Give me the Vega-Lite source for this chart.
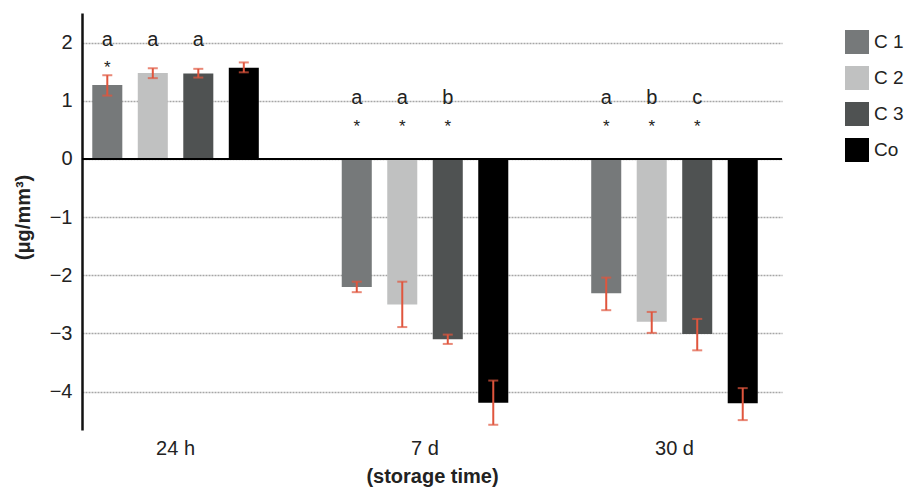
{
  "$schema": "https://vega.github.io/schema/vega-lite/v6.json",
  "width": 700,
  "height": 417,
  "autosize": {"type": "none"},
  "padding": {"left": 82, "top": 13, "right": 124, "bottom": 58},
  "background": "white",
  "config": {
    "view": {"stroke": null},
    "font": "Liberation Sans",
    "axisX": {
      "labelAngle": 0, "labelFontSize": 20, "labelColor": "#222", "labelPadding": 8,
      "ticks": false, "domain": false, "grid": false,
      "titleFontSize": 20, "titleFontWeight": "bold", "titleColor": "#222", "titlePadding": 8
    },
    "axisY": {
      "grid": true, "gridDash": [2, 1], "gridColor": "#a6a6a6", "gridWidth": 1.5,
      "domain": true, "domainColor": "#111", "domainWidth": 2.5, "ticks": false,
      "labelFontSize": 20, "labelColor": "#222", "labelPadding": 10,
      "titleFontSize": 20, "titleFontWeight": "bold", "titleColor": "#222",
      "titleX": -59, "titleY": 204, "titleAlign": "center", "titleBaseline": "middle"
    }
  },
  "data": {
    "values": [
      {"time": "24 h", "group": "C 1", "value": 1.27, "lo": 1.09, "hi": 1.44, "letter": "a", "star": "*"},
      {"time": "24 h", "group": "C 2", "value": 1.48, "lo": 1.39, "hi": 1.56, "letter": "a", "star": ""},
      {"time": "24 h", "group": "C 3", "value": 1.47, "lo": 1.40, "hi": 1.55, "letter": "a", "star": ""},
      {"time": "24 h", "group": "Co", "value": 1.57, "lo": 1.49, "hi": 1.66, "letter": "", "star": ""},
      {"time": "7 d", "group": "C 1", "value": -2.20, "lo": -2.29, "hi": -2.11, "letter": "a", "star": "*"},
      {"time": "7 d", "group": "C 2", "value": -2.50, "lo": -2.89, "hi": -2.11, "letter": "a", "star": "*"},
      {"time": "7 d", "group": "C 3", "value": -3.10, "lo": -3.18, "hi": -3.02, "letter": "b", "star": "*"},
      {"time": "7 d", "group": "Co", "value": -4.19, "lo": -4.57, "hi": -3.81, "letter": "", "star": ""},
      {"time": "30 d", "group": "C 1", "value": -2.31, "lo": -2.60, "hi": -2.04, "letter": "a", "star": "*"},
      {"time": "30 d", "group": "C 2", "value": -2.80, "lo": -2.99, "hi": -2.63, "letter": "b", "star": "*"},
      {"time": "30 d", "group": "C 3", "value": -3.01, "lo": -3.29, "hi": -2.75, "letter": "c", "star": "*"},
      {"time": "30 d", "group": "Co", "value": -4.20, "lo": -4.49, "hi": -3.94, "letter": "", "star": ""}
    ]
  },
  "layer": [
    {
      "mark": {"type": "bar"},
      "encoding": {
        "x": {
          "field": "time", "type": "nominal", "sort": ["24 h", "7 d", "30 d"],
          "scale": {"paddingInner": 0.25, "paddingOuter": 0.028, "align": 0},
          "axis": {"title": "(storage time)"}
        },
        "xOffset": {
          "field": "group", "type": "nominal", "sort": ["C 1", "C 2", "C 3", "Co"],
          "scale": {"paddingInner": 0.34, "paddingOuter": 0.226}
        },
        "y": {
          "field": "value", "type": "quantitative",
          "scale": {"domain": [-4.66, 2.51], "nice": false, "zero": false},
          "axis": {"title": "(μg/mm³)", "values": [-4, -3, -2, -1, 0, 1, 2], "format": "d"}
        },
        "color": {
          "field": "group", "type": "nominal",
          "scale": {"domain": ["C 1", "C 2", "C 3", "Co"], "range": ["#76797a", "#c0c1c1", "#4f5252", "#000000"]},
          "legend": {
            "title": null, "orient": "none", "legendX": 763, "legendY": 17,
            "symbolType": "square", "symbolSize": 576, "symbolStrokeWidth": 0, "symbolOpacity": 1,
            "labelFontSize": 19, "labelColor": "#222", "labelOffset": 5, "rowPadding": 12
          }
        }
      }
    },
    {
      "mark": {"type": "rule", "color": "#000000", "strokeWidth": 2},
      "encoding": {"y": {"datum": 0, "type": "quantitative", "axis": {"title": "(μg/mm³)", "values": [-4, -3, -2, -1, 0, 1, 2], "format": "d"}}}
    },
    {
      "mark": {"type": "rule", "color": "#e0553d", "strokeWidth": 2},
      "encoding": {
        "x": {"field": "time", "type": "nominal", "sort": ["24 h", "7 d", "30 d"], "axis": {"title": "(storage time)"}},
        "xOffset": {"field": "group", "type": "nominal", "sort": ["C 1", "C 2", "C 3", "Co"]},
        "y": {"field": "lo", "type": "quantitative", "axis": {"title": "(μg/mm³)", "values": [-4, -3, -2, -1, 0, 1, 2], "format": "d"}},
        "y2": {"field": "hi"}
      }
    },
    {
      "mark": {"type": "tick", "color": "#e0553d", "thickness": 2, "size": 10},
      "encoding": {
        "x": {"field": "time", "type": "nominal", "sort": ["24 h", "7 d", "30 d"], "axis": {"title": "(storage time)"}},
        "xOffset": {"field": "group", "type": "nominal", "sort": ["C 1", "C 2", "C 3", "Co"]},
        "y": {"field": "lo", "type": "quantitative", "axis": {"title": "(μg/mm³)", "values": [-4, -3, -2, -1, 0, 1, 2], "format": "d"}}
      }
    },
    {
      "mark": {"type": "tick", "color": "#e0553d", "thickness": 2, "size": 10},
      "encoding": {
        "x": {"field": "time", "type": "nominal", "sort": ["24 h", "7 d", "30 d"], "axis": {"title": "(storage time)"}},
        "xOffset": {"field": "group", "type": "nominal", "sort": ["C 1", "C 2", "C 3", "Co"]},
        "y": {"field": "hi", "type": "quantitative", "axis": {"title": "(μg/mm³)", "values": [-4, -3, -2, -1, 0, 1, 2], "format": "d"}}
      }
    },
    {
      "transform": [{"filter": "datum.time === '24 h'"}],
      "mark": {"type": "text", "fontSize": 20, "color": "#222", "baseline": "alphabetic"},
      "encoding": {
        "x": {"field": "time", "type": "nominal", "sort": ["24 h", "7 d", "30 d"], "axis": {"title": "(storage time)"}},
        "xOffset": {"field": "group", "type": "nominal", "sort": ["C 1", "C 2", "C 3", "Co"]},
        "y": {"datum": 1.94, "type": "quantitative", "axis": {"title": "(μg/mm³)", "values": [-4, -3, -2, -1, 0, 1, 2], "format": "d"}},
        "text": {"field": "letter"}
      }
    },
    {
      "transform": [{"filter": "datum.time !== '24 h'"}],
      "mark": {"type": "text", "fontSize": 20, "color": "#222", "baseline": "alphabetic"},
      "encoding": {
        "x": {"field": "time", "type": "nominal", "sort": ["24 h", "7 d", "30 d"], "axis": {"title": "(storage time)"}},
        "xOffset": {"field": "group", "type": "nominal", "sort": ["C 1", "C 2", "C 3", "Co"]},
        "y": {"datum": 0.945, "type": "quantitative", "axis": {"title": "(μg/mm³)", "values": [-4, -3, -2, -1, 0, 1, 2], "format": "d"}},
        "text": {"field": "letter"}
      }
    },
    {
      "transform": [{"filter": "datum.time === '24 h'"}],
      "mark": {"type": "text", "fontSize": 17, "color": "#222", "baseline": "alphabetic"},
      "encoding": {
        "x": {"field": "time", "type": "nominal", "sort": ["24 h", "7 d", "30 d"], "axis": {"title": "(storage time)"}},
        "xOffset": {"field": "group", "type": "nominal", "sort": ["C 1", "C 2", "C 3", "Co"]},
        "y": {"datum": 1.48, "type": "quantitative", "axis": {"title": "(μg/mm³)", "values": [-4, -3, -2, -1, 0, 1, 2], "format": "d"}},
        "text": {"field": "star"}
      }
    },
    {
      "transform": [{"filter": "datum.time !== '24 h'"}],
      "mark": {"type": "text", "fontSize": 17, "color": "#222", "baseline": "alphabetic"},
      "encoding": {
        "x": {"field": "time", "type": "nominal", "sort": ["24 h", "7 d", "30 d"], "axis": {"title": "(storage time)"}},
        "xOffset": {"field": "group", "type": "nominal", "sort": ["C 1", "C 2", "C 3", "Co"]},
        "y": {"datum": 0.46, "type": "quantitative", "axis": {"title": "(μg/mm³)", "values": [-4, -3, -2, -1, 0, 1, 2], "format": "d"}},
        "text": {"field": "star"}
      }
    }
  ]
}
